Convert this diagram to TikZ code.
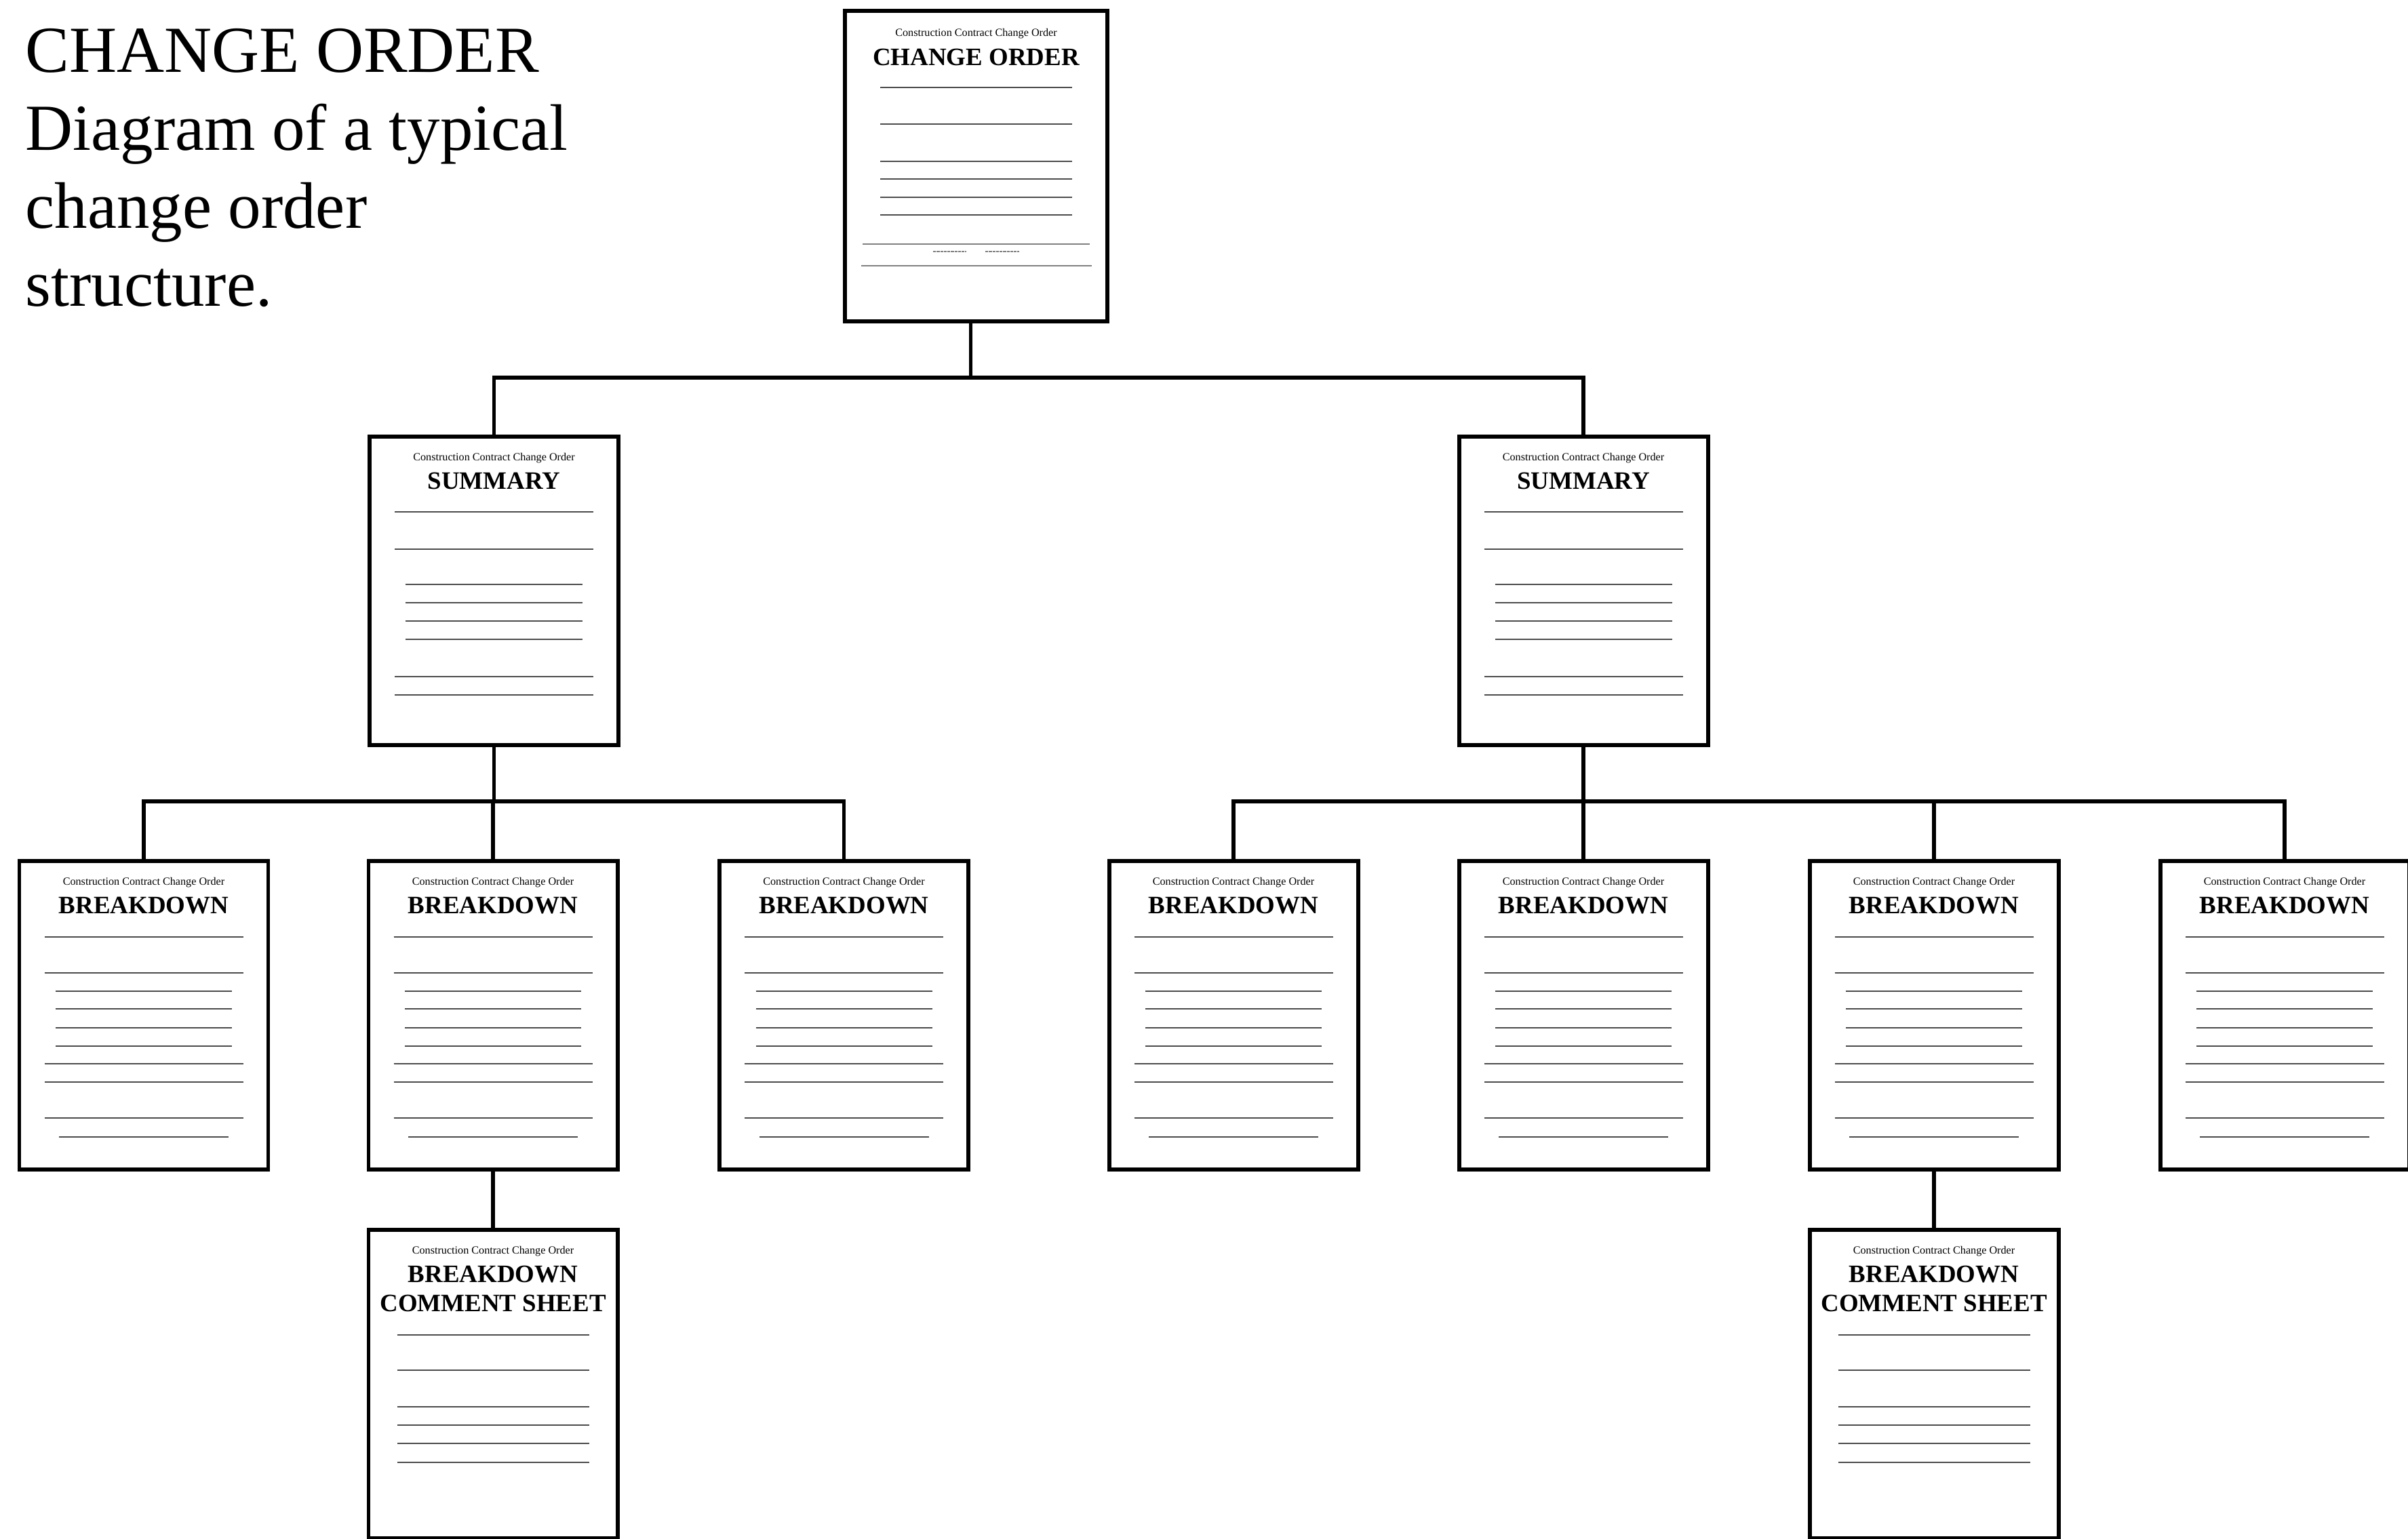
\documentclass[tikz,border=0pt]{standalone}
\usepackage{fontspec}
\setmainfont{Liberation Serif}
\usetikzlibrary{positioning, calc}
\tikzset{sheet/.style={draw, line width=1.7pt, outer sep=0pt, inner sep=0pt,
           minimum width=3.67cm, minimum height=4.55cm},
         conn/.style={line width=1.6pt},
         rule/.style={line width=0.55pt, black!70},
         faintrule/.style={line width=0.35pt, black!50},
         hdr/.style={font=\fontsize{4.6}{5}\selectfont, inner sep=0pt, anchor=base},
         ttl/.style={font=\fontsize{10.5}{12}\selectfont\bfseries, inner sep=0pt, anchor=base}}
% ruled lines of a sheet: node, half width, offsets below the top
\newcommand{\rulings}[3]{%
  \foreach \dy in {#3}
    \draw[rule] ([shift={(-#2,-\dy)}]#1.north) -- ([shift={(#2,-\dy)}]#1.north);}
\newcommand{\sheethead}[2]{%
  \node[hdr] at ([yshift=-0.36cm]#1.north) {Construction Contract Change Order};
  \node[ttl] at ([yshift=-0.78cm]#1.north) {#2};}
\begin{document}
\begin{tikzpicture}
    \useasboundingbox (0,0) rectangle (35.51,22.70);

    \node[anchor=north west, align=left, inner sep=0pt,
          font=\fontsize{27.6}{32.7}\selectfont] (caption) at (0.37,22.28)
          {CHANGE ORDER\\Diagram of a typical\\change order\\structure.};

    % sheets
    \node[sheet, minimum width=3.87cm, minimum height=4.58cm] (co) at (14.395,20.25) {};
    \node[sheet] (sumL) at (7.285,13.985) {};
    \node[sheet] (sumR) at (23.35,13.985) {};
    \foreach \x [count=\i] in {2.12,7.27,12.445,18.19,23.35,28.52,33.69}
        \node[sheet] (bd\i) at (\x,7.725) {};
    \node[sheet, below=0.89cm of bd2] (cmL) {};
    \node[sheet, below=0.89cm of bd6] (cmR) {};

    % change order sheet
    \node[hdr] at ([yshift=-0.38cm]co.north) {Construction Contract Change Order};
    \node[ttl] at ([yshift=-0.81cm]co.north) {CHANGE ORDER};
    \rulings{co}{1.415}{1.13,1.67,2.22,2.48,2.75,3.01}
    \draw[faintrule] ([shift={(-1.675,-3.44)}]co.north) -- ([shift={(1.675,-3.44)}]co.north);
    \draw[faintrule, dash pattern=on 1.2pt off 0.3pt] ([shift={(-0.635,-3.55)}]co.north) -- ([shift={(-0.145,-3.55)}]co.north);
    \draw[faintrule, dash pattern=on 1.2pt off 0.3pt] ([shift={(0.135,-3.55)}]co.north) -- ([shift={(0.635,-3.55)}]co.north);
    \draw[faintrule] ([shift={(-1.70,-3.76)}]co.north) -- ([shift={(1.70,-3.76)}]co.north);

    \foreach \s in {sumL,sumR} {
        \sheethead{\s}{SUMMARY}
        \rulings{\s}{1.465}{1.11,1.66,3.54,3.81}
        \rulings{\s}{1.305}{2.18,2.45,2.72,2.99}
    }
    \foreach \i in {1,...,7} {
        \sheethead{bd\i}{BREAKDOWN}
        \rulings{bd\i}{1.465}{1.12,1.65,2.99,3.26,3.79}
        \rulings{bd\i}{1.30}{1.92,2.18,2.46,2.73}
        \rulings{bd\i}{1.25}{4.07}
    }
    \foreach \s in {cmL,cmR} {
        \sheethead{\s}{BREAKDOWN}
        \node[ttl] at ([yshift=-1.21cm]\s.north) {COMMENT SHEET};
        \rulings{\s}{1.415}{1.55,2.07,2.61,2.88,3.15,3.43}
    }

    % connectors
    \coordinate (bar1) at (0,17.13);
    \coordinate (bar2) at (0,10.88);
    \coordinate (stem) at ([xshift=-0.08cm]co.south);
    \draw[conn] (stem) -- (stem |- bar1);
    \draw[conn] (sumL.north) |- (bar1 -| sumR.north) -- (sumR.north);
    \draw[conn] (sumL.south) -- (sumL.south |- bar2);
    \draw[conn] (sumR.south) -- (sumR.south |- bar2);
    \draw[conn] (bd1.north) |- (bar2 -| bd3.north) -- (bd3.north);
    \draw[conn] (bd4.north) |- (bar2 -| bd7.north) -- (bd7.north);
    \foreach \i in {2,5,6}
        \draw[conn] (bd\i.north) -- (bd\i.north |- bar2);
    \draw[conn] (bd2.south) -- (cmL.north);
    \draw[conn] (bd6.south) -- (cmR.north);
\end{tikzpicture}
\end{document}
